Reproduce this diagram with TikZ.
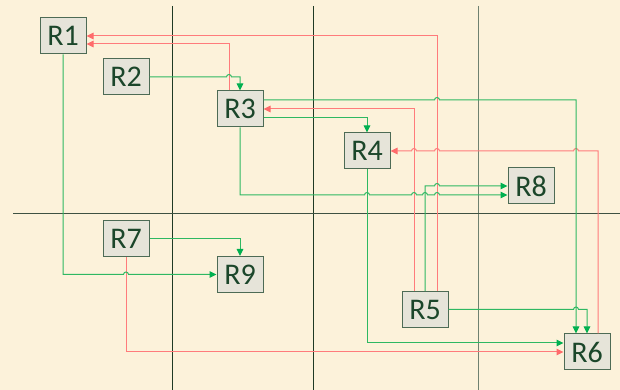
\documentclass[tikz,border=0pt]{standalone}
\usepackage{fontspec}
\setmainfont{Carlito}
\usetikzlibrary{arrows.meta,positioning}
\definecolor{paper}{HTML}{FCF2DA}
\definecolor{boxfill}{HTML}{E6E4D9}
\definecolor{boxdraw}{HTML}{4D6B55}
\definecolor{boxtext}{HTML}{1B462A}
\definecolor{griddark}{HTML}{1F3A24}
\definecolor{gridmid}{HTML}{3E5242}
\definecolor{gridgray}{HTML}{6F8170}
\definecolor{linkgreen}{HTML}{2EB862}
\definecolor{linkred}{HTML}{FF7B7B}
\definecolor{tipgreen}{HTML}{00B050}
\definecolor{tipred}{HTML}{FF6B6B}
\tikzset{
  rbox/.style={draw=boxdraw, fill=boxfill, line width=1pt,
    minimum width=46pt, minimum height=36pt, inner sep=0pt,
    font=\fontsize{30}{30}\selectfont, text=boxtext},
  gridline/.style={line width=1pt, color=griddark},
  glink/.style={-{Triangle[length=7pt,width=6.5pt,color=tipgreen]}, line width=1pt, color=linkgreen},
  rlink/.style={-{Triangle[length=7pt,width=6.5pt,color=tipred]}, line width=1pt, color=linkred},
}
% small jump where a horizontal run crosses a vertical one
\newcommand{\hopright}[2]{-- (#1-2.5,#2) arc[start angle=180,end angle=0,radius=2.5pt]}
\newcommand{\hopleft}[2]{-- (#1+2.5,#2) arc[start angle=0,end angle=180,radius=2.5pt]}

\begin{document}
\begin{tikzpicture}[x=1pt,y=1pt]
  \useasboundingbox (0,0) rectangle (620,390);
  \fill[paper] (0,0) rectangle (620,390);
  % quadrant lines
  \draw[gridline] (172,384) -- (172,0);
  \draw[gridline] (313,384) -- (313,0);
  \draw[gridline, color=gridgray] (478,384) -- (478,0);
  \draw[gridline, color=gridmid] (13,176) -- (620,176);
  % the boxes
  \node[rbox] (R1) at (63,354) {R1};
  \node[rbox] (R2) at (126,313) {R2};
  \node[rbox] (R3) at (240,281) {R3};
  \node[rbox] (R4) at (367,239) {R4};
  \node[rbox] (R8) at (531,204) {R8};
  \node[rbox] (R7) at (126,151) {R7};
  \node[rbox] (R9) at (240,115.5) {R9};
  \node[rbox] (R5) at (425,80.5) {R5};
  \node[rbox] (R6) at (587,38) {R6};
  % red links
  \draw[rlink] ([xshift=12pt]R5.north) |- (R1.east);
  \draw[rlink] ([xshift=-11pt]R3.north) |- ([yshift=-8pt]R1.east);
  \draw[rlink] ([xshift=-11pt]R5.north) |- (R3.east);
  \draw[rlink] ([xshift=11pt]R6.north) -- (598,239) \hopleft{576}{239}
    \hopleft{437}{239} \hopleft{414}{239} -- (R4.east);
  \draw[rlink] (R7.south) |- (R6.west);
  % green links
  \draw[glink] (R2.east) \hopright{229}{313} -| (R3.north);
  \draw[glink] ([yshift=9pt]R3.east) \hopright{437}{290} -| ([xshift=-11pt]R6.north);
  \draw[glink] ([yshift=-9pt]R3.east) -| (R4.north);
  \draw[glink] (R3.south) -- (240,195) \hopright{367}{195} \hopright{414}{195}
    \hopright{425}{195} \hopright{437}{195} -- ([yshift=-9pt]R8.west);
  \draw[glink] (R5.north) -- (425,204) \hopright{437}{204} -- (R8.west);
  \draw[glink] (R4.south) |- ([yshift=9pt]R6.west);
  \draw[glink] (R1.south) -- (63,115.5) \hopright{126}{115.5} -- (R9.west);
  \draw[glink] (R7.east) -| (R9.north);
  \draw[glink] (R5.east) \hopright{576}{80.5} -| (R6.north);
\end{tikzpicture}
\end{document}
